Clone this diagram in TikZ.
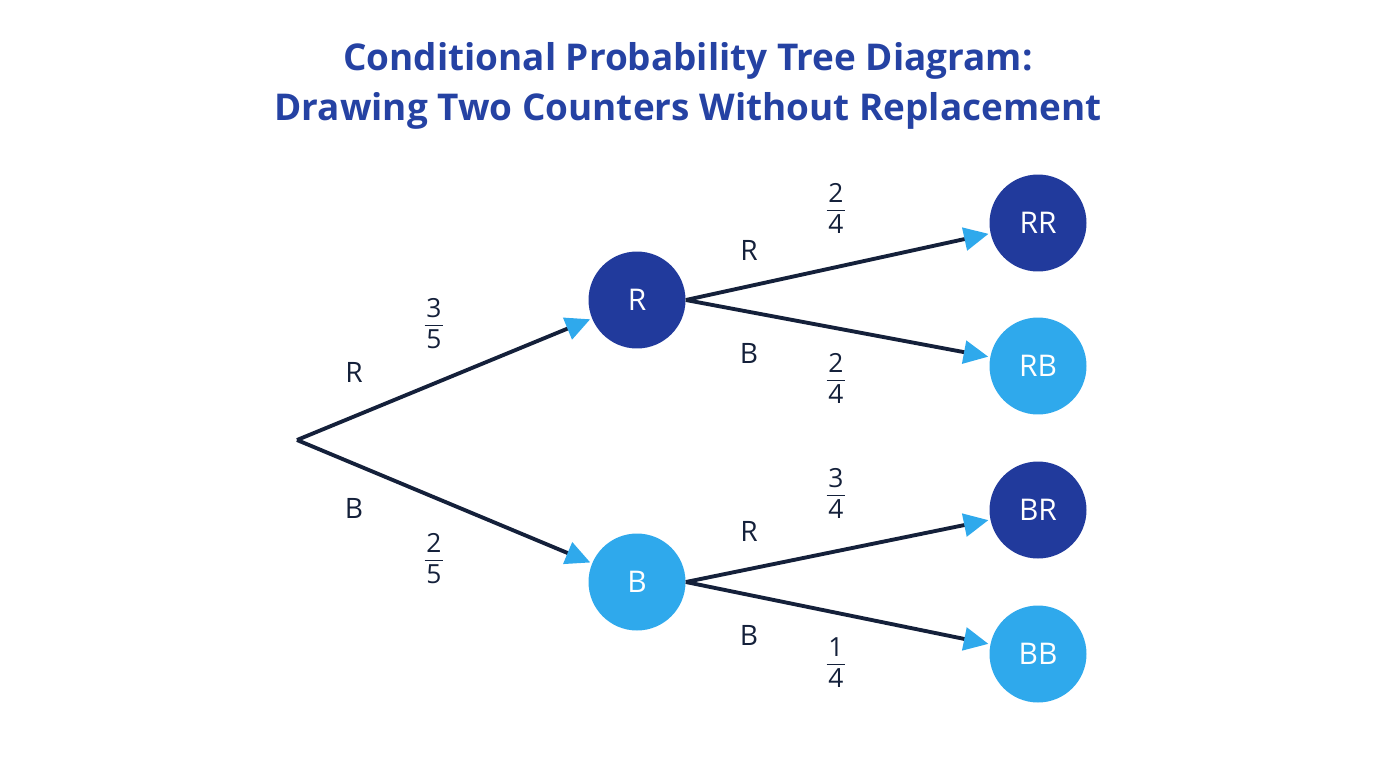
\documentclass[tikz,border=0pt]{standalone}
\usepackage{fontspec}
\setmainfont{Open Sans}
\usetikzlibrary{arrows.meta}
\definecolor{navy}{HTML}{14203A}
\definecolor{dblue}{HTML}{213A9C}
\definecolor{lblue}{HTML}{2FA9EC}
\definecolor{ttl}{HTML}{2542A3}
\newcommand{\myfrac}[2]{{\renewcommand{\arraystretch}{1.05}\setlength{\tabcolsep}{1pt}\begin{tabular}{c}#1\\[-1pt]\hline\rule{0pt}{13pt}#2\end{tabular}}}
\begin{document}
\begin{tikzpicture}[x=0.02cm,y=-0.02cm,
  dk/.style={circle,fill=dblue,minimum size=1.94cm,inner sep=0,text=white,font=\fontsize{17}{20}\selectfont},
  lt/.style={circle,fill=lblue,minimum size=1.94cm,inner sep=0,text=white,font=\fontsize{17}{20}\selectfont},
  br/.style={draw=navy,line width=2.2pt,-{Triangle[length=14pt,width=13pt,color=lblue,fill=lblue]},shorten >=1pt},
  lab/.style={text=navy,font=\fontsize{16}{19}\selectfont},
  fr/.style={text=navy,inner sep=0,font=\fontsize{15}{17}\selectfont}]
\useasboundingbox (0,0) rectangle (1376,768);
\node[text=ttl,font=\bfseries\fontsize{21}{28}\selectfont,align=center] (title) at (688,86)
 {Conditional Probability Tree Diagram:\\Drawing Two Counters Without Replacement};
\coordinate (root) at (297,440);
\node[dk] (R) at (637,300) {R};
\node[lt] (B) at (637,582) {B};
\node[dk] (RR) at (1038,223) {RR};
\node[lt] (RB) at (1038,366) {RB};
\node[dk] (BR) at (1038,510) {BR};
\node[lt] (BB) at (1038,654) {BB};
\draw[br] (root) -- (R);
\draw[br] (root) -- (B);
\draw[br] (R.east) -- (RR);
\draw[br] (R.east) -- (RB);
\draw[br] (B.east) -- (BR);
\draw[br] (B.east) -- (BB);
\node[lab] (l1) at (354,372) {R};
\node[fr] (f1) at (434,327) {\myfrac{3}{5}};
\node[lab] (l2) at (354,508) {B};
\node[fr] (f2) at (434,562) {\myfrac{2}{5}};
\node[lab] (l3) at (749,250) {R};
\node[fr] (f3) at (836,212) {\myfrac{2}{4}};
\node[lab] (l4) at (749,353) {B};
\node[fr] (f4) at (836,382) {\myfrac{2}{4}};
\node[lab] (l5) at (749,531) {R};
\node[fr] (f5) at (836,497) {\myfrac{3}{4}};
\node[lab] (l6) at (749,635) {B};
\node[fr] (f6) at (836,666) {\myfrac{1}{4}};
\end{tikzpicture}
\end{document}
